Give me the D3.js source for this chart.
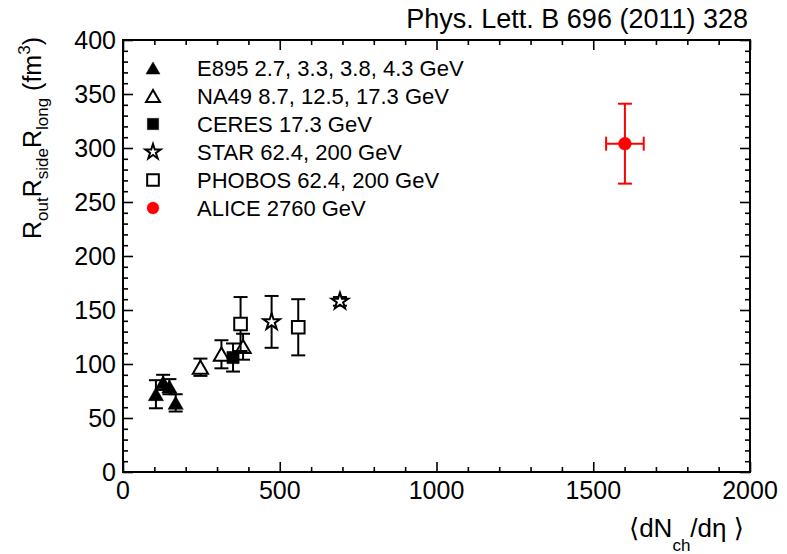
<!DOCTYPE html>
<html lang="en">
<head>
  <meta charset="utf-8"/>
  <script src="https://d3js.org/d3.v7.min.js"></script>
  <style>
    body { margin: 0; background: #fff; }
    text { font-family: "Liberation Sans", Arial, "DejaVu Sans", sans-serif; fill: #000; }
    .axis path { display: none; }
    .axis line { stroke: #000; stroke-width: 1.6px; }
  </style>
</head>
<body>
<div id="chart"></div>
<script>
  // data
  const e895X   = [105, 128, 148, 168];
  const e895Y   = [72, 83, 79, 64];
  const e895Err = [13, 7, 7, 8];

  const na49X   = [247, 314, 383];
  const na49Y   = [97, 109, 116];
  const na49Err = [8, 13, 12];

  const ceresX   = [351];
  const ceresY   = [106];
  const ceresErr = [13];

  const starX   = [474, 692];
  const starY   = [139, 158];
  const starErr = [24, 4];

  const phobosX   = [375, 559];
  const phobosY   = [137, 134];
  const phobosErr = [25, 26];

  const aliceX    = [1601];
  const aliceY    = [304];
  const aliceErr  = [37];
  const aliceXErr = [60];

  const xMajor = [0, 500, 1000, 1500, 2000];
  const yMajor = [0, 50, 100, 150, 200, 250, 300, 350, 400];
  const legendLabels = [
    "E895 2.7, 3.3, 3.8, 4.3 GeV",
    "NA49 8.7, 12.5, 17.3 GeV",
    "CERES 17.3 GeV",
    "STAR 62.4, 200 GeV",
    "PHOBOS 62.4, 200 GeV",
    "ALICE 2760 GeV"
  ];

  const width = 787, height = 554;
  const mLeft = 123, mRight = 750, mTop = 40, mBottom = 472;

  const svg = d3.select("#chart").append("svg")
    .attr("width", width)
    .attr("height", height);

  const x = d3.scaleLinear().domain([0, 2000]).range([mLeft, mRight]);
  const y = d3.scaleLinear().domain([0, 400]).range([mBottom, mTop]);

  const xMinor = d3.range(0, 2001, 100).filter(v => v % 500 !== 0);
  const yMinor = d3.range(0, 401, 10).filter(v => v % 50 !== 0);

  // ticks on all four sides, pointing inward
  function ticks(axisFn, scale, vals, len, tx, ty) {
    svg.append("g").attr("class", "axis")
      .attr("transform", `translate(${tx},${ty})`)
      .call(axisFn(scale).tickValues(vals).tickSize(-len).tickFormat(""));
  }
  ticks(d3.axisBottom, x, xMinor, 5, 0, mBottom);
  ticks(d3.axisBottom, x, xMajor, 10, 0, mBottom);
  ticks(d3.axisTop, x, xMinor, 5, 0, mTop);
  ticks(d3.axisTop, x, xMajor, 10, 0, mTop);
  ticks(d3.axisLeft, y, yMinor, 5, mLeft, 0);
  ticks(d3.axisLeft, y, yMajor, 10, mLeft, 0);
  ticks(d3.axisRight, y, yMinor, 5, mRight, 0);
  ticks(d3.axisRight, y, yMajor, 10, mRight, 0);

  svg.append("rect")
    .attr("x", mLeft).attr("y", mTop)
    .attr("width", mRight - mLeft).attr("height", mBottom - mTop)
    .attr("fill", "none").attr("stroke", "#000").attr("stroke-width", 2);

  // tick labels
  svg.append("g").selectAll("text")
    .data(xMajor).enter().append("text")
    .attr("x", d => x(d)).attr("y", mBottom + 27)
    .attr("text-anchor", "middle").attr("font-size", "25px")
    .text(d => d);
  svg.append("g").selectAll("text")
    .data(yMajor).enter().append("text")
    .attr("x", mLeft - 7).attr("y", d => y(d) + 9)
    .attr("text-anchor", "end").attr("font-size", "25px")
    .text(d => d);

  // axis titles
  const xt = svg.append("text")
    .attr("x", 629).attr("y", 537).attr("font-size", "26px");
  xt.append("tspan").text("\u27E8dN");
  xt.append("tspan").attr("dy", 14).attr("font-size", "17px").text("ch");
  xt.append("tspan").attr("dy", -14).text("/d\u03B7 \u27E9");

  const yt = svg.append("text")
    .attr("transform", "translate(41,37) rotate(-90)")
    .attr("text-anchor", "end").attr("font-size", "25px");
  yt.append("tspan").text("R");
  yt.append("tspan").attr("dy", 7).attr("font-size", "17px").text("out");
  yt.append("tspan").attr("dy", -7).text("R");
  yt.append("tspan").attr("dy", 7).attr("font-size", "17px").text("side");
  yt.append("tspan").attr("dy", -7).text("R");
  yt.append("tspan").attr("dy", 7).attr("font-size", "17px").text("long");
  yt.append("tspan").attr("dy", -7).text(" (fm");
  yt.append("tspan").attr("dy", -11).attr("font-size", "17px").text("3");
  yt.append("tspan").attr("dy", 11).text(")");

  svg.append("text")
    .attr("x", 748).attr("y", 28)
    .attr("text-anchor", "end").attr("font-size", "27px")
    .text("Phys. Lett. B 696 (2011) 328");

  // series drawing
  const series = [
    {xs: e895X, ys: e895Y, err: e895Err, sym: d3.symbolTriangle, size: 100, fill: "#000", color: "#000"},
    {xs: na49X, ys: na49Y, err: na49Err, sym: d3.symbolTriangle, size: 100, fill: "#fff", color: "#000"},
    {xs: ceresX, ys: ceresY, err: ceresErr, sym: d3.symbolSquare, size: 150, fill: "#000", color: "#000"},
    {xs: starX, ys: starY, err: starErr, sym: d3.symbolStar, size: 85, fill: "#fff", color: "#000"},
    {xs: phobosX, ys: phobosY, err: phobosErr, sym: d3.symbolSquare, size: 160, fill: "#fff", color: "#000"},
    {xs: aliceX, ys: aliceY, err: aliceErr, xerr: aliceXErr, sym: d3.symbolCircle, size: 130, fill: "#f00", color: "#f00"}
  ];

  const cap = 7;
  series.forEach(s => {
    const g = svg.append("g");
    const pts = s.xs.map((v, i) => ({x: v, y: s.ys[i], e: s.err[i], xe: s.xerr ? s.xerr[i] : 0}));
    pts.forEach(p => {
      const px = x(p.x), py = y(p.y);
      const y1 = y(p.y + p.e), y2 = y(p.y - p.e);
      const lines = [
        [px, y1, px, y2],
        [px - cap, y1, px + cap, y1],
        [px - cap, y2, px + cap, y2]
      ];
      if (p.xe) {
        const x1 = x(p.x - p.xe), x2 = x(p.x + p.xe);
        lines.push([x1, py, x2, py], [x1, py - cap, x1, py + cap], [x2, py - cap, x2, py + cap]);
      }
      g.selectAll(null).data(lines).enter().append("line")
        .attr("x1", d => d[0]).attr("y1", d => d[1])
        .attr("x2", d => d[2]).attr("y2", d => d[3])
        .attr("stroke", s.color).attr("stroke-width", 2);
    });
    g.selectAll("path").data(pts).enter().append("path")
      .attr("d", d3.symbol().type(s.sym).size(s.size))
      .attr("transform", d => `translate(${x(d.x)},${y(d.y) + (s.sym === d3.symbolTriangle ? 2 : 0)})`)
      .attr("fill", s.fill)
      .attr("stroke", s.color)
      .attr("stroke-width", s.fill === "#fff" ? 2 : 0.5);
  });

  // legend
  const leg = svg.append("g");
  legendLabels.forEach((lab, i) => {
    const s = series[i];
    const ly = 68 + i * 28;
    leg.append("path")
      .attr("d", d3.symbol().type(s.sym).size(s.size * 0.85))
      .attr("transform", `translate(153,${ly + (s.sym === d3.symbolTriangle ? 2 : 0)})`)
      .attr("fill", s.fill).attr("stroke", s.color)
      .attr("stroke-width", s.fill === "#fff" ? 2 : 0.5);
    leg.append("text")
      .attr("x", 197).attr("y", ly + 8)
      .attr("font-size", "22px")
      .text(lab);
  });
</script>
</body>
</html>
